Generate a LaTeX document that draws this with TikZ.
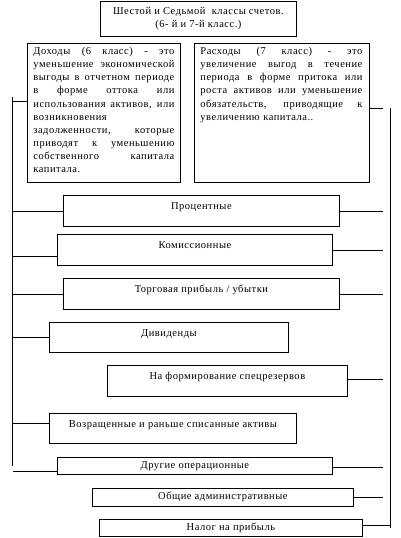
\documentclass[tikz,border=0pt]{standalone}
\usepackage{fontspec}
\setmainfont{Liberation Serif}[LetterSpace=5]
\newcommand{\fs}{\fontsize{10.5pt}{13.1pt}\selectfont}
\newcommand{\jl}[1]{\makebox[\hsize][s]{\spaceskip=0pt\xspaceskip=0pt\relax #1}\\}
\begin{document}
\begin{tikzpicture}[x=1pt,y=-1pt,line width=0.8pt,font=\fs,
  box/.style={draw, inner sep=0pt, anchor=north west},
  up/.style={text height=7pt, text depth=9pt},
  mid/.style={text height=7pt, text depth=2pt},
  para/.style={anchor=north west, inner sep=0pt, align=left}]
\useasboundingbox (0,0) rectangle (400,538);
% title
\node[box, minimum width=196pt, minimum height=35pt, align=center] (title) at (100,1)
  {Шестой и Седьмой\ \ классы счетов.\\(6- й и 7-й класс.)};
% two description boxes
\node[box, minimum width=153pt, minimum height=139pt] (dox) at (27,43) {};
\node[para, text width=141pt] (doxt) at (33,47) {%
\jl{Доходы (6 класс) - это}
\jl{уменьшение экономической}
\jl{выгоды в отчетном периоде}
\jl{в форме оттока или}
\jl{использования активов, или}
возникновения\\
\jl{задолженности, которые}
\jl{приводят к уменьшению}
\jl{собственного капитала}
капитала.};
\node[box, minimum width=175pt, minimum height=139pt] (rasx) at (194,43) {};
\node[para, text width=162pt] (rasxt) at (200,47) {%
\jl{Расходы (7 класс) - это}
\jl{увеличение выгод в течение}
\jl{периода в форме притока или}
\jl{роста активов или уменьшение}
\jl{обязательств, приводящие к}
увеличению капитала..};
% item boxes
\node[box, up, minimum width=276pt, minimum height=31pt] (proc) at (63,195) {Процентные};
\node[box, up, minimum width=275pt, minimum height=31pt] (kom) at (57,234) {Комиссионные};
\node[box, up, minimum width=276pt, minimum height=31pt] (torg) at (63,278) {Торговая прибыль / убытки};
\node[box, up, minimum width=239pt, minimum height=30pt] (div) at (49,322) {Дивиденды};
\node[box, up, minimum width=240pt, minimum height=31pt] (form) at (107,365) {На формирование спецрезервов};
\node[box, up, minimum width=247pt, minimum height=30pt] (voz) at (49,413) {Возращенные и раньше списанные активы};
\node[box, mid, minimum width=275pt, minimum height=17pt] (drug) at (57,457) {Другие операционные};
\node[box, mid, minimum width=261pt, minimum height=18pt] (obsh) at (92,488) {Общие административные};
\node[box, mid, minimum width=263pt, minimum height=17pt] (nalog) at (99,519) {Налог на прибыль};
% buses
\coordinate (lbt) at (12.7,97);
\coordinate (lbb) at (12.7,466);
\coordinate (rbt) at (390,108);
\coordinate (rbb) at (390,528);
\coordinate (rend) at (383,0);
\draw (lbt) -- (lbb);
\draw (rbt) -- (rbb);
% left connectors
\draw ([yshift=12pt]dox.west) -- ([yshift=12pt]dox.west -| lbt);
\draw (proc.west) -- (proc.west -| lbt);
\draw ([yshift=-6.5pt]kom.west) -- ([yshift=-6.5pt]kom.west -| lbt);
\draw (torg.west) -- (torg.west -| lbt);
\draw (div.west) -- (div.west -| lbt);
\draw ([yshift=5pt]voz.west) -- ([yshift=5pt]voz.west -| lbt);
\draw ([yshift=-5.5pt]drug.west) -- ([yshift=-5.5pt]drug.west -| lbt);
% right connectors
\draw ([yshift=4.5pt]rasx.east) -- ([yshift=4.5pt]rasx.east -| rend);
\draw (proc.east) -- (proc.east -| rend);
\draw (kom.east) -- (kom.east -| rend);
\draw (torg.east) -- (torg.east -| rend);
\draw ([yshift=1.5pt]form.east) -- ([yshift=1.5pt]form.east -| rend);
\draw ([yshift=-1.5pt]drug.east) -- ([yshift=-1.5pt]drug.east -| rend);
\draw (obsh.east) -- (obsh.east -| rend);
\draw ([yshift=2.5pt]nalog.east) -- ([yshift=2.5pt]nalog.east -| rbt);
\end{tikzpicture}
\end{document}
